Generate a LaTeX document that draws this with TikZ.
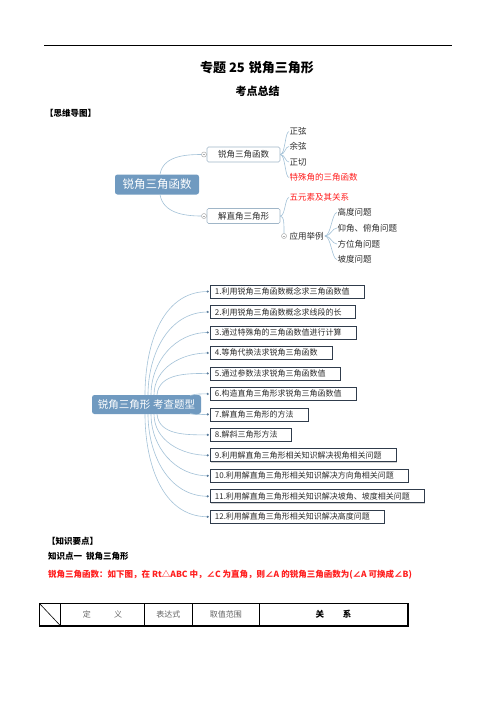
\documentclass[tikz,border=0pt]{standalone}
\usepackage{fontspec}
\setmainfont{Noto Sans CJK SC}
\usetikzlibrary{shadows}
\definecolor{mmblue}{RGB}{112,154,192}
\definecolor{lnblue}{RGB}{164,194,216}
\definecolor{bxgray}{RGB}{160,182,200}
\definecolor{qborder}{RGB}{48,60,76}
\definecolor{redt}{RGB}{255,30,30}
\definecolor{leaf}{RGB}{45,45,45}
\definecolor{tgray}{RGB}{100,100,100}
\newcommand\myfs[1]{\fontsize{#1}{#1}\selectfont}
\begin{document}
\begin{tikzpicture}[x=1pt,y=-1pt,
  central/.style={fill=mmblue, rounded corners=2.5pt, text=white, inner sep=0pt},
  bbox/.style={draw=bxgray, line width=0.6pt, fill=white, rounded corners=1.5pt, minimum width=73pt, minimum height=15pt, inner sep=0pt, font=\myfs{8.5}, text=leaf},
  leaftext/.style={anchor=west, inner sep=0pt, font=\myfs{8.5}, text=leaf},
  conn/.style={draw=lnblue, line width=0.6pt},
  marker/.style={circle, draw=gray!65, fill=white, line width=0.5pt, inner sep=0pt, minimum size=5pt,
    path picture={\draw[gray!65, line width=0.5pt] ([xshift=-1.3pt]path picture bounding box.center) -- ([xshift=1.3pt]path picture bounding box.center);}},
  qbox/.style={draw=qborder, line width=0.75pt, fill=white, anchor=west, minimum height=13pt, inner xsep=5pt, inner ysep=0pt, font=\myfs{8}, text=leaf,
    drop shadow={shadow xshift=0.8pt, shadow yshift=-0.8pt, fill=black!35}},
  qdot/.style={fill=mmblue!80!black},
  headtext/.style={anchor=west, inner sep=0pt, font=\myfs{8.5}\bfseries},
  ttext/.style={inner sep=0pt, font=\myfs{8}, text=tgray}
]
\useasboundingbox (0,0) rectangle (496,702);
\fill[white] (0,0) rectangle (496,702);

% header
\draw[line width=0.6pt] (44,45) -- (452,45);
\node[inner sep=0pt, font=\myfs{13}\bfseries] (title) at (257,67.5) {专题 25\hspace{4pt}锐角三角形};
\node[inner sep=0pt, font=\myfs{11}\bfseries] (sub) at (257.5,91) {考点总结};
\node[headtext] (h1) at (45,113) {【思维导图】};

% ---------- mind map 1 ----------
\node[central, minimum width=84pt, minimum height=20pt, font=\myfs{11.5}] (c1) at (157,184.5) {锐角三角函数};
\node[bbox] (b1) at (243.5,154.5) {锐角三角函数};
\node[bbox] (b2) at (243.5,216) {解直角三角形};
\node[marker] (m1) at (204,154.5) {};
\node[marker] (m2) at (204,216) {};
\draw[conn] ([xshift=3pt]c1.north) to[out=80,in=180] (m1.west);
\draw[conn] ([xshift=3pt]c1.south) to[out=-80,in=180] (m2.west);

\node[leaftext] (l1) at (289.5,131.5) {正弦};
\node[leaftext] (l2) at (289.5,146.5) {余弦};
\node[leaftext] (l3) at (289.5,162) {正切};
\node[leaftext, text=redt] (l4) at (289.5,177.5) {特殊角的三角函数};
\foreach \n in {l1,l2,l3,l4}
  \draw[conn] (b1.east) .. controls +(5,0) and +(-4,0) .. ([xshift=-0.5pt]\n.west);

\node[leaftext, text=redt] (l5) at (289.5,197.5) {五元素及其关系};
\node[marker] (m3) at (284,236) {};
\node[leaftext] (l6) at (289.5,236) {应用举例};
\draw[conn] (b2.east) .. controls +(5,0) and +(-4,0) .. ([xshift=-0.5pt]l5.west);
\draw[conn] (b2.east) .. controls +(4,0) and +(0,-8) .. (m3.north);

\node[leaftext] (s1) at (337.5,212.5) {高度问题};
\node[leaftext] (s2) at (337.5,228) {仰角、俯角问题};
\node[leaftext] (s3) at (337.5,244) {方位角问题};
\node[leaftext] (s4) at (337.5,259.5) {坡度问题};
\foreach \n in {s1,s2,s3,s4}
  \draw[conn] ([xshift=1pt]l6.east) .. controls +(6,0) and +(-5,0) .. ([xshift=-0.5pt]\n.west);

% ---------- mind map 2 ----------
\node[central, minimum width=109pt, minimum height=19pt, font=\myfs{10.5}] (c2) at (146.5,404.5) {锐角三角形\hspace{3pt}考查题型};

\foreach \i/\tw/\t in {
  1/144/{1.利用锐角三角函数概念求三角函数值},
  2/135/{2.利用锐角三角函数概念求线段的长},
  3/136/{3.通过特殊角的三角函数值进行计算},
  4/112/{4.等角代换法求锐角三角函数},
  5/120/{5.通过参数法求锐角三角函数值},
  6/136/{6.构造直角三角形求锐角三角函数值},
  7/88/{7.解直角三角形的方法},
  8/71/{8.解斜三角形方法},
  9/176/{9.利用解直角三角形相关知识解决视角相关问题},
  10/188/{10.利用解直角三角形相关知识解决方向角相关问题},
  11/204/{11.利用解直角三角形相关知识解决坡角、坡度相关问题},
  12/164/{12.利用解直角三角形相关知识解决高度问题}}
  \node[qbox] (q\i) at (209.5,{291.5+20.48*(\i-1)}) {\makebox[\tw pt][l]{\t}};

\draw[conn] (145,395) to[out=90,in=180] ([xshift=-1.5pt]q1.west);
\draw[conn] (148,395) to[out=90,in=180] ([xshift=-1.5pt]q2.west);
\draw[conn] (151,395) to[out=90,in=180] ([xshift=-1.5pt]q3.west);
\draw[conn] (154,395) to[out=90,in=180] ([xshift=-1.5pt]q4.west);
\draw[conn] (157,395) to[out=85,in=180] ([xshift=-1.5pt]q5.west);
\draw[conn] (190,395.5) to[out=15,in=180] ([xshift=-1.5pt]q6.west);
\draw[conn] (190,413.5) to[out=-15,in=180] ([xshift=-1.5pt]q7.west);
\draw[conn] (157,414) to[out=-85,in=180] ([xshift=-1.5pt]q8.west);
\draw[conn] (154,414) to[out=-90,in=180] ([xshift=-1.5pt]q9.west);
\draw[conn] (151,414) to[out=-90,in=180] ([xshift=-1.5pt]q10.west);
\draw[conn] (148,414) to[out=-90,in=180] ([xshift=-1.5pt]q11.west);
\draw[conn] (145,414) to[out=-90,in=180] ([xshift=-1.5pt]q12.west);
\foreach \i in {1,...,12}
  \fill[qdot] ([xshift=-1.8pt]q\i.west) circle (1.2pt);

% ---------- knowledge section ----------
\node[headtext] (h2) at (47,541) {【知识要点】};
\node[headtext] (h3) at (48,556.5) {知识点一\hspace{4pt}锐角三角形};
\node[headtext, text=redt] (h4) at (48,575) {锐角三角函数：如下图，在 Rt△ABC 中，∠C 为直角，则∠A 的锐角三角函数为(∠A 可换成∠B)};

% table
\draw[line width=1.1pt] (39.3,603.3) rectangle (408,626);
\draw[line width=1.8pt] (39.3,626) -- (408,626);
\foreach \x in {60.7,144.3,192.3,259.3}
  \draw[line width=0.8pt] (\x,603.3) -- (\x,626);
\draw[line width=0.6pt] (39.3,603.3) -- (60.7,626);
\node[ttext] (t1) at (102.5,614.7) {定\hspace{23.5pt}义};
\node[ttext] (t2) at (168.3,614.7) {表达式};
\node[ttext] (t3) at (225.8,614.7) {取值范围};
\node[inner sep=0pt, font=\myfs{8.5}\bfseries] (t4) at (333.5,614.7) {关\hspace{19pt}系};
\end{tikzpicture}
\end{document}
